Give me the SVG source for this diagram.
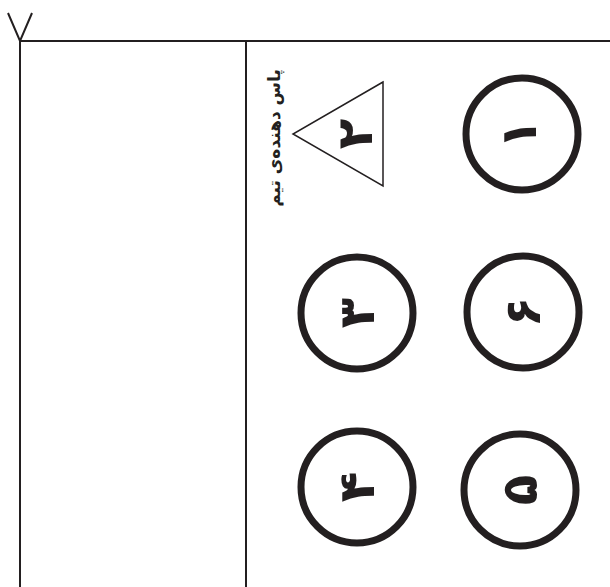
<svg xmlns="http://www.w3.org/2000/svg" width="610" height="587" viewBox="0 0 610 587">
<style>
.line{stroke:#231f20;stroke-width:2;fill:none}
.pl{fill:none;stroke:#231f20;stroke-width:7}
.tri{fill:none;stroke:#231f20;stroke-width:1.5}
.num{font-family:"DejaVu Sans",sans-serif;font-weight:bold;font-size:50px;fill:#231f20;text-anchor:middle;dominant-baseline:central}
.lbl{font-family:"DejaVu Sans",sans-serif;font-weight:bold;font-size:17px;fill:#231f20;text-anchor:middle;dominant-baseline:central}
</style>
<rect width="610" height="587" fill="#fff"/>
<g id="court">
<polyline class="line" points="8,13 20,41 32,13"/>
<line class="line" x1="20" y1="41" x2="610" y2="41"/>
<line class="line" x1="20" y1="41" x2="20" y2="587"/>
<line class="line" x1="246" y1="41" x2="246" y2="587"/>
</g>
<g id="player1"><circle class="pl" cx="522" cy="134" r="56"/><text class="num" transform="translate(519,134) rotate(-90)">۱</text></g>
<g id="setter"><polygon class="tri" points="383,82 293,134 383,186"/><text class="num" transform="translate(355,134) rotate(-90)">۲</text></g>
<g id="setter-label"><text class="lbl" transform="translate(274,138) rotate(-90)">پاس دهنده‌ی تیم</text></g>
<g id="player3"><circle class="pl" cx="357" cy="313" r="56"/><text class="num" transform="translate(357,313) rotate(-90)">۳</text></g>
<g id="player6"><circle class="pl" cx="523" cy="312" r="56"/><text class="num" transform="translate(523,312) rotate(-90)">۶</text></g>
<g id="player4"><circle class="pl" cx="357" cy="487" r="56"/><text class="num" transform="translate(357,487) rotate(-90)">۴</text></g>
<g id="player5"><circle class="pl" cx="520" cy="490" r="56"/><text class="num" transform="translate(520,490) rotate(-90)">۵</text></g>
</svg>
